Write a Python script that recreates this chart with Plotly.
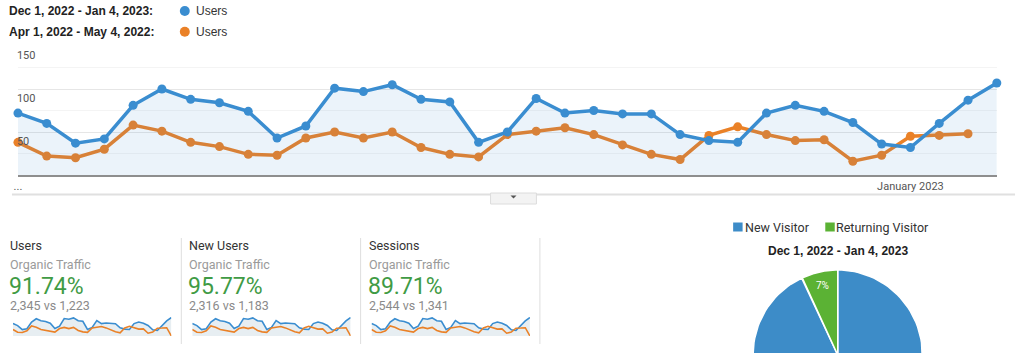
import numpy as np
import plotly.graph_objects as go

W, H = 1024, 353

# ---------------- data ----------------
days = list(range(35))  # day index within each comparison range
users_current = [72, 60, 37, 42, 81, 100, 88, 84, 74, 43, 57, 101,
                 97, 105, 88, 85, 38, 50, 89, 72, 75, 71, 71, 47,
                 40, 38, 72, 81, 74, 61, 36, 32, 60, 87, 107]
users_previous = [38, 22, 20, 30, 58, 51, 38, 33, 24, 23, 43, 50,
                  43, 50, 32, 24, 21, 47, 51, 55, 47, 35, 24, 18,
                  46, 56, 47, 40, 41, 16, 23, 45, 46, 48]
spark_previous_tail = [0]

x_tick_vals = [0, 31]
x_tick_text = ["...", "January 2023"]
y_tick_vals = [50, 100, 150]
y_minor_vals = [25, 75, 125]

range_current = "Dec 1, 2022 - Jan 4, 2023:"
range_previous = "Apr 1, 2022 - May 4, 2022:"
series_name = "Users"

metric_names = ["Users", "New Users", "Sessions"]
segment_name = "Organic Traffic"
metric_pct = ["91.74%", "95.77%", "89.71%"]
metric_cmp = ["2,345 vs 1,223", "2,316 vs 1,183", "2,544 vs 1,341"]

pie_labels = ["New Visitor", "Returning Visitor"]
pie_values = [93, 7]
pie_title = "Dec 1, 2022 - Jan 4, 2023"

# ---------------- styles ----------------
BLUE = "#3a8dd0"
ORANGE = "#ea8127"
PIE_COLORS = ["#3d8cc8", "#5bb234"]
GREEN_TXT = "#3f9b45"
ARIAL = "Liberation Sans, Arial, sans-serif"
ROBOTO = "Roboto, Arial, sans-serif"
TXT_DX = -4  # annotation inner padding compensation


def px(x):
    return x / W


def py(y):
    return 1 - y / H


fig = go.Figure()

# ---------------- main chart ----------------
fig.add_trace(go.Scatter(
    x=days[:len(users_previous)], y=users_previous, mode="lines+markers",
    name=series_name, line=dict(color=ORANGE, width=3.5),
    marker=dict(size=9, color=ORANGE), cliponaxis=False,
    xaxis="x", yaxis="y"))
fig.add_trace(go.Scatter(
    x=days, y=users_current, mode="lines+markers", name=series_name,
    line=dict(color=BLUE, width=3.5), marker=dict(size=9, color=BLUE),
    fill="tozeroy", fillcolor="rgba(58,141,208,0.10)", cliponaxis=False,
    xaxis="x", yaxis="y"))

# ---------------- sparklines ----------------
spark_prev = users_previous + spark_previous_tail
for i in range(3):
    xa = "x%d" % (i + 2)
    ya = "y%d" % (i + 2)
    fig.add_trace(go.Scatter(
        x=days, y=users_current, mode="lines", line=dict(color=BLUE, width=1.6),
        fill="tozeroy", fillcolor="rgba(120,160,185,0.18)",
        xaxis=xa, yaxis=ya))
    fig.add_trace(go.Scatter(
        x=days, y=spark_prev, mode="lines", line=dict(color=ORANGE, width=1.6),
        xaxis=xa, yaxis=ya))

# ---------------- pie (drawn on its own axes) ----------------
PIE_YR = [(355 - 353) / 85, (355 - 262) / 85]
total = float(sum(pie_values))
cum = np.concatenate([[0.0], np.cumsum(pie_values) / total])
for k, lab in enumerate(pie_labels):
    th = 2 * np.pi * np.linspace(cum[k], cum[k + 1], 120)
    xs = np.concatenate([[0.0], np.sin(th), [0.0]])
    ys = np.concatenate([[0.0], np.cos(th), [0.0]])
    fig.add_trace(go.Scatter(
        x=xs, y=ys, mode="lines", fill="toself", name=lab,
        fillcolor=PIE_COLORS[k], line=dict(color="white", width=1.5),
        xaxis="x5", yaxis="y5"))
    mid = np.pi * (cum[k] + cum[k + 1])
    lx, ly = 0.83 * np.sin(mid), 0.83 * np.cos(mid)
    if ly > PIE_YR[0] + 0.1:  # only labels inside the visible part of the pie
        fig.add_trace(go.Scatter(
            x=[lx], y=[ly], mode="text",
            text=["%d%%" % round(100 * pie_values[k] / total)],
            textfont=dict(color="white", size=10, family=ROBOTO),
            xaxis="x5", yaxis="y5"))

# ---------------- layout / axes ----------------
layout = dict(
    width=W, height=H, margin=dict(l=0, r=0, t=0, b=0),
    paper_bgcolor="white", plot_bgcolor="white", showlegend=False,
    xaxis=dict(domain=[px(14), px(996.7)], range=[0, 34], showgrid=False,
               zeroline=False, showline=True, linecolor="#8e8e8e", linewidth=2,
               tickvals=x_tick_vals, ticktext=x_tick_text, ticks="",
               tickfont=dict(size=11, color="#555", family=ROBOTO),
               ticklabelstandoff=0, ticklabeloverflow="allow", fixedrange=True),
    yaxis=dict(domain=[py(175), py(46)], range=[0, 150], tickvals=y_tick_vals,
               showgrid=True, gridcolor="#e6e6e6", gridwidth=1, zeroline=False,
               ticks="", ticklabelposition="inside", ticklabelshift=9,
               ticklabelstandoff=-4, ticklabeloverflow="allow",
               tickfont=dict(size=11, color="#555", family=ROBOTO),
               minor=dict(tickvals=y_minor_vals, showgrid=True,
                          gridcolor="#f4f4f4", ticks=""),
               fixedrange=True),
    xaxis5=dict(domain=[px(737), px(937)], range=[-100 / 85, 100 / 85],
                visible=False, fixedrange=True),
    yaxis5=dict(domain=[0, py(262)], range=PIE_YR,
                visible=False, fixedrange=True),
)
for i in range(3):
    off = 180 * i
    layout["xaxis%d" % (i + 2)] = dict(domain=[px(9 + off), px(168 + off)],
                                       range=[0, 34], visible=False, fixedrange=True)
    layout["yaxis%d" % (i + 2)] = dict(domain=[py(336), py(317)], range=[0, 110],
                                       visible=False, fixedrange=True)
fig.update_layout(**layout)

ann = []
shapes = []


def label(x, y, text, size, color, family, anchor="left"):
    ann.append(dict(x=px(x + (TXT_DX if anchor == "left" else 0)), y=py(y),
                    xref="paper", yref="paper", xanchor=anchor, yanchor="middle",
                    text=text, showarrow=False,
                    font=dict(size=size, color=color, family=family)))


# top legend
for row, (lab, col) in enumerate([(range_current, BLUE), (range_previous, ORANGE)]):
    yc = 11 + 20.7 * row
    label(7.5, yc, "<b>%s</b>" % lab, 12, "#222", ARIAL)
    shapes.append(dict(type="circle", xref="paper", yref="paper",
                       x0=px(176.5), x1=px(186.5), y0=py(yc + 5), y1=py(yc - 5),
                       fillcolor=col, line=dict(width=0)))
    label(194.5, yc, series_name, 12, "#333", ARIAL)

# separator under main chart + tab button
shapes.append(dict(type="line", xref="paper", yref="paper", x0=px(8), x1=px(1015),
                   y0=py(194.5), y1=py(194.5), line=dict(color="#e0e0e0", width=2)))
shapes.append(dict(type="rect", xref="paper", yref="paper", x0=px(488.5), x1=px(534.5),
                   y0=py(204), y1=py(193), fillcolor="#f3f3f3",
                   line=dict(color="#dcdcdc", width=1)))
shapes.append(dict(type="path", xref="paper", yref="paper",
                   path="M %f %f L %f %f L %f %f Z" % (px(508.5), py(195.5), px(514.5), py(195.5),
                                                      px(511.5), py(198.5)),
                   fillcolor="#555", line=dict(width=0)))

# metric boxes
for i in range(3):
    x0 = 8 + 180 * i
    label(x0, 245.5, metric_names[i], 12.5, "#333", ROBOTO)
    label(x0, 264.5, segment_name, 12.5, "#9a9a9a", ROBOTO)
    label(x0 - 1, 286, metric_pct[i], 23, GREEN_TXT, ROBOTO)
    label(x0, 305.5, metric_cmp[i], 12.5, "#8a8a8a", ROBOTO)
    shapes.append(dict(type="line", xref="paper", yref="paper",
                       x0=px(178 + 180 * i), x1=px(178 + 180 * i),
                       y0=py(238), y1=py(344), line=dict(color="#dedede", width=1)))

# pie legend + title
leg_x = [(732, 746), (824.5, 837.5)]
for k, lab in enumerate(pie_labels):
    sx, tx = leg_x[k]
    shapes.append(dict(type="rect", xref="paper", yref="paper", x0=px(sx), x1=px(sx + 9.5),
                       y0=py(231.5), y1=py(222.5), fillcolor=PIE_COLORS[k],
                       line=dict(width=0)))
    label(tx, 227, lab, 12.5, "#333", ROBOTO)
label(837, 250.5, "<b>%s</b>" % pie_title, 12, "#222", ARIAL, anchor="center")

fig.update_layout(annotations=ann, shapes=shapes)
fig.write_html("out.html")
